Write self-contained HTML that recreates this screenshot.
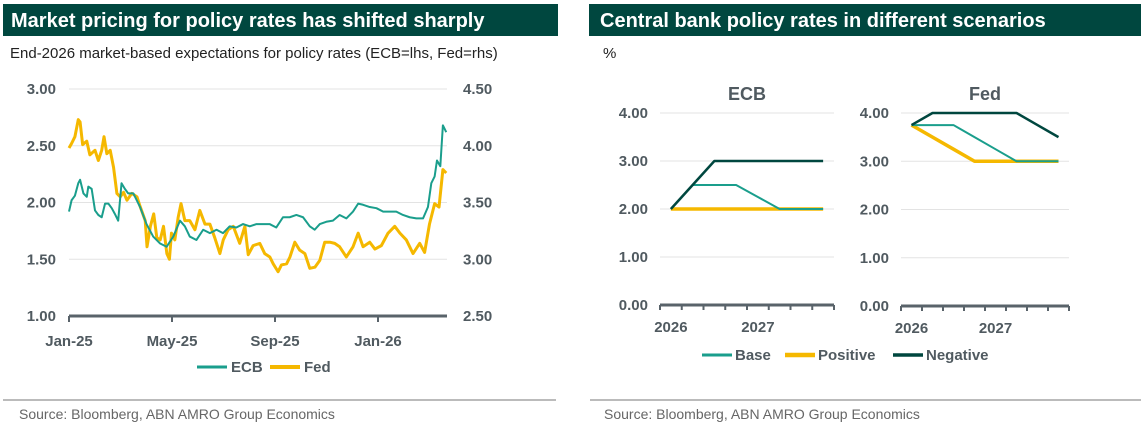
<!DOCTYPE html>
<html><head><meta charset="utf-8"><style>
body{margin:0;background:#fff;width:1145px;height:433px;overflow:hidden;font-family:"Liberation Sans",sans-serif}
svg text{font-family:"Liberation Sans",sans-serif}
</style></head><body>
<svg id="s" width="1145" height="433" viewBox="0 0 1145 433" xmlns="http://www.w3.org/2000/svg">
<rect x="3" y="4" width="555" height="32" fill="#00473f"/>
<text x="11" y="27" font-size="20" font-weight="bold" fill="#fff">Market pricing for policy rates has shifted sharply</text>
<rect x="589" y="4" width="552" height="32" fill="#00473f"/>
<text x="600" y="27" font-size="20" font-weight="bold" fill="#fff">Central bank policy rates in different scenarios</text>
<text x="10" y="58" font-size="15" fill="#222">End-2026 market-based expectations for policy rates (ECB=lhs, Fed=rhs)</text>
<text x="603" y="58" font-size="15" fill="#222">%</text>
<line x1="3" y1="400" x2="556" y2="400" stroke="#bbb" stroke-width="2"/>
<line x1="590" y1="400" x2="1141" y2="400" stroke="#bbb" stroke-width="2"/>
<text x="19" y="419" font-size="14" fill="#666">Source: Bloomberg, ABN AMRO Group Economics</text>
<text x="604" y="419" font-size="14" fill="#666">Source: Bloomberg, ABN AMRO Group Economics</text>
<g id="L"></g><g id="R"></g>
</svg>
<script>
// Left chart data (x in months since Jan-25)
const ecbX=[0,.10,.23,.36,.43,.56,.69,.75,.88,1.01,1.14,1.27,1.4,1.53,1.66,1.78,1.91,2.04,2.17,2.3,2.5,2.63,2.76,3.01,3.27,3.53,3.79,4.05,4.31,4.5,4.69,4.95,5.21,5.47,5.73,5.98,6.24,6.5,6.76,7.02,7.28,7.54,7.79,8.05,8.31,8.57,8.83,9.09,9.35,9.54,9.74,9.99,10.25,10.51,10.77,11.03,11.23,11.42,11.68,11.94,12.2,12.46,12.71,12.97,13.23,13.49,13.75,13.94,14.07,14.2,14.29,14.42,14.52,14.65];
const ecbV=[1.92,2.02,2.06,2.17,2.2,2.08,2.05,2.14,2.12,1.93,1.89,1.87,1.99,1.99,1.95,1.9,1.84,2.17,2.12,2.08,2.08,2.02,1.96,1.81,1.7,1.64,1.61,1.7,1.84,1.79,1.7,1.67,1.76,1.73,1.76,1.73,1.79,1.78,1.81,1.79,1.81,1.81,1.81,1.78,1.87,1.87,1.89,1.87,1.79,1.76,1.81,1.83,1.84,1.89,1.86,1.92,1.99,1.98,1.96,1.95,1.92,1.92,1.92,1.89,1.87,1.86,1.86,1.96,2.17,2.23,2.37,2.32,2.68,2.62];
const fedX=[0,.10,.23,.36,.43,.53,.69,.81,1.01,1.14,1.27,1.36,1.47,1.6,1.73,1.86,1.99,2.12,2.25,2.44,2.64,2.77,2.96,3.03,3.16,3.29,3.41,3.54,3.67,3.8,3.9,3.98,4.11,4.24,4.35,4.5,4.69,4.89,5.08,5.28,5.47,5.66,5.86,5.99,6.18,6.38,6.63,6.83,6.96,7.15,7.41,7.6,7.8,7.93,8.12,8.25,8.45,8.58,8.77,8.96,9.16,9.35,9.55,9.74,9.93,10.13,10.32,10.51,10.77,11.03,11.23,11.42,11.68,11.88,12.13,12.39,12.65,12.85,13.1,13.36,13.62,13.81,14.0,14.2,14.37,14.52,14.65];
const fedV=[3.98,4.02,4.08,4.23,4.21,4.01,4.04,3.92,3.96,3.87,3.96,4.08,3.93,3.96,3.81,3.58,3.55,3.59,3.52,3.58,3.55,3.46,3.34,3.11,3.29,3.4,3.19,3.17,3.29,3.05,3.0,3.23,3.17,3.37,3.49,3.34,3.34,3.26,3.43,3.31,3.31,3.19,3.05,3.17,3.26,3.29,3.14,3.29,3.04,3.12,3.14,3.05,3.02,2.96,2.89,2.95,2.96,3.02,3.15,3.08,3.05,2.92,2.93,2.99,3.15,3.15,3.14,3.11,3.02,3.11,3.23,3.11,3.15,3.09,3.12,3.23,3.29,3.23,3.17,3.05,3.14,3.06,3.31,3.49,3.46,3.79,3.76];
const leftTicks=[1.0,1.5,2.0,2.5,3.0];
const rightTicks=[2.5,3.0,3.5,4.0,4.5];
const xTickLabels=["Jan-25","May-25","Sep-25","Jan-26"];
const xTickMonths=[0,4,8,12];
// Right charts data (quarters Q1-2026..Q4-2027)
const quarters=["Q1-26","Q2-26","Q3-26","Q4-26","Q1-27","Q2-27","Q3-27","Q4-27"];
const ecbBase=[2,2.5,2.5,2.5,2.25,2,2,2];
const ecbPositive=[2,2,2,2,2,2,2,2];
const ecbNegative=[2,2.5,3,3,3,3,3,3];
const fedBase=[3.75,3.75,3.75,3.5,3.25,3,3,3];
const fedPositive=[3.75,3.5,3.25,3,3,3,3,3];
const fedNegative=[3.75,4,4,4,4,4,3.75,3.5];
const smallTicks=[0,1,2,3,4];

const NS="http://www.w3.org/2000/svg";
function mk(p,t,a){const e=document.createElementNS(NS,t);for(const k in a)e.setAttribute(k,a[k]);p.appendChild(e);return e;}
const TEAL="#1a9e8c",GOLD="#f5b800",DARK="#00473f",TXT="#505a60";
const L=document.getElementById('L');
const x0=69,pxm=(378-69)/12,xEnd=447;
const xs=m=>x0+m*pxm;
const yl=v=>316-(v-1)/2*227;
const yr=v=>316-(v-2.5)/2*227;
leftTicks.forEach((t,i)=>{
 if(i>0){const g=mk(L,'line',{x1:x0,x2:xEnd,y1:yl(t),y2:yl(t),stroke:'#e3e3e3','stroke-width':1});
 
 }
 const tx=mk(L,'text',{x:56,y:yl(t)+5,'font-size':15,'font-weight':'bold',fill:TXT,'text-anchor':'end'});tx.textContent=t.toFixed(2);
 
 
});
rightTicks.forEach(t=>{
 const tx=mk(L,'text',{x:463,y:yr(t)+5,'font-size':15,'font-weight':'bold',fill:TXT});tx.textContent=t.toFixed(2);
 
 
});
const ax=mk(L,'line',{x1:x0,x2:xEnd,y1:316,y2:316,stroke:'#59636a','stroke-width':3});


xTickMonths.forEach((m,i)=>{
 const tk=mk(L,'line',{x1:xs(m),x2:xs(m),y1:316,y2:322,stroke:'#59636a','stroke-width':2});
 
 
 const tx=mk(L,'text',{x:xs(m),y:346,'font-size':15,'font-weight':'bold',fill:TXT,'text-anchor':'middle'});tx.textContent=xTickLabels[i];
 
 
});
const fp=mk(L,'polyline',{points:fedX.map((m,i)=>xs(m)+','+yr(fedV[i])).join(' '),fill:'none',stroke:GOLD,'stroke-width':3,'stroke-linejoin':'round'});


const ep=mk(L,'polyline',{points:ecbX.map((m,i)=>xs(m)+','+yl(ecbV[i])).join(' '),fill:'none',stroke:TEAL,'stroke-width':2,'stroke-linejoin':'round'});


[[197,TEAL,'ECB',2],[270,GOLD,'Fed',3]].forEach(([x,c,n,w])=>{
 const g=mk(L,'g',{});
 
 
 mk(g,'line',{x1:x,x2:x+30,y1:367,y2:367,stroke:c,'stroke-width':w+1});
 const t=mk(g,'text',{x:x+34,y:372,'font-size':15,'font-weight':'bold',fill:TXT});t.textContent=n;
});
const R=document.getElementById('R');
function panel(name,ax0,ax1,y4,y0,title,series){
 const g=mk(R,'g',{});
 
 
 const ys=v=>y0-v/4*(y0-y4);
 const bw=(ax1-ax0)/quarters.length;
 const xq=i=>ax0+bw*(i+0.5);
 smallTicks.forEach(t=>{
  if(t>0){const l=mk(g,'line',{x1:ax0,x2:ax1,y1:ys(t),y2:ys(t),stroke:'#e3e3e3','stroke-width':1});
  
  }
  const tx=mk(g,'text',{x:ax0-12,y:ys(t)+5,'font-size':15,'font-weight':'bold',fill:TXT,'text-anchor':'end'});tx.textContent=t.toFixed(2);
  
  
 });
 const a=mk(g,'line',{x1:ax0,x2:ax1,y1:y0,y2:y0,stroke:'#59636a','stroke-width':3});
 
 
 for(let i=0;i<=quarters.length;i++){const k=mk(g,'line',{x1:ax0+bw*i,x2:ax0+bw*i,y1:y0,y2:y0+5,stroke:'#59636a','stroke-width':2});
 
 }
 [[0,'2026'],[4,'2027']].forEach(([i,lab])=>{const tx=mk(g,'text',{x:xq(i),y:y0+27,'font-size':15,'font-weight':'bold',fill:TXT,'text-anchor':'middle'});tx.textContent=lab;
 
 });
 const tt=mk(g,'text',{x:(ax0+ax1)/2,y:y4-13,'font-size':18,'font-weight':'bold',fill:TXT,'text-anchor':'middle'});tt.textContent=title;
 
 
 series.forEach(([vals,c,w,n])=>{
  const p=mk(g,'polyline',{points:vals.map((v,i)=>xq(i)+','+ys(v)).join(' '),fill:'none',stroke:c,'stroke-width':w,'stroke-linejoin':'round'});
  
  
 });
}
panel('ecb',660,834,113,305,'ECB',[[ecbPositive,GOLD,3.5,'positive'],[ecbBase,TEAL,2,'base'],[ecbNegative,DARK,2.5,'negative']]);
panel('fed',901,1069,113,306,'Fed',[[fedPositive,GOLD,3.5,'positive'],[fedBase,TEAL,2,'base'],[fedNegative,DARK,2.5,'negative']]);
[[702,TEAL,'Base',2],[785,GOLD,'Positive',3.5],[893,DARK,'Negative',2.5]].forEach(([x,c,n,w])=>{
 const g=mk(R,'g',{});
 
 
 mk(g,'line',{x1:x,x2:x+30,y1:355,y2:355,stroke:c,'stroke-width':w+1});
 const t=mk(g,'text',{x:x+33,y:360,'font-size':15,'font-weight':'bold',fill:TXT});t.textContent=n;
});
</script>
</body></html>
